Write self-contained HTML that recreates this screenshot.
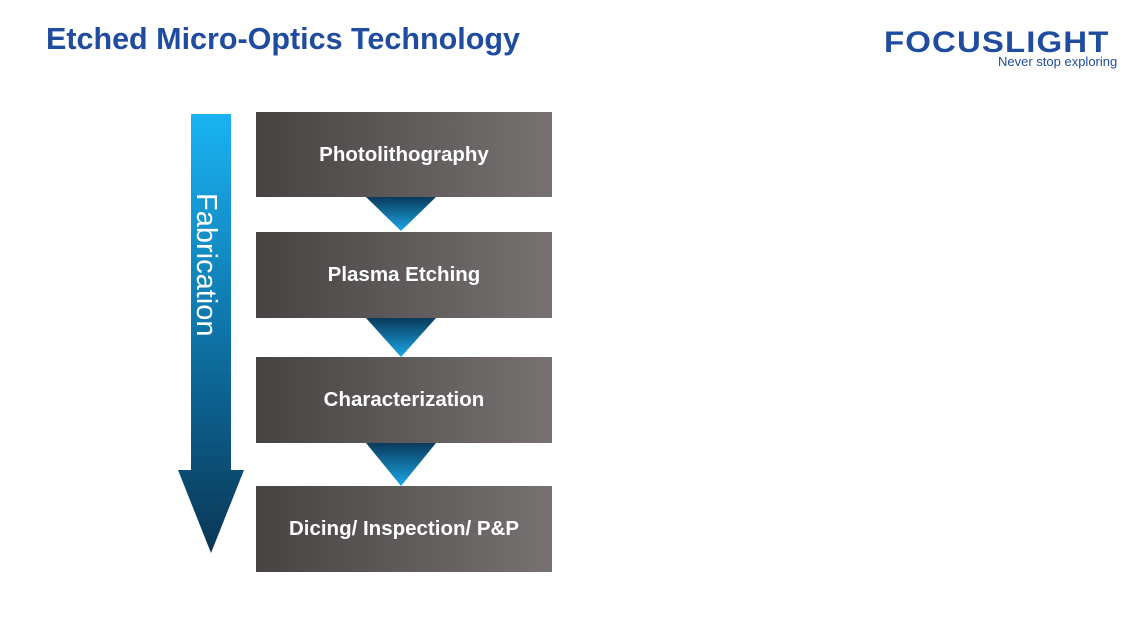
<!DOCTYPE html>
<html><head><style>
body{margin:0;width:1132px;height:625px;background:#fff;position:relative;overflow:hidden;font-family:"Liberation Sans",sans-serif}
.t{position:absolute;left:46px;top:22px;font-size:30.5px;font-weight:bold;color:#1f4c9e}
.box{position:absolute;left:256px;width:296px;background:linear-gradient(90deg,#474343,#777271);color:#fff;font-weight:bold;font-size:20.5px;display:flex;align-items:center;justify-content:center}
.logo{position:absolute;left:884px;top:26px;font-size:30px;font-weight:bold;color:#1f4c9e;letter-spacing:1px;transform:scaleX(1.1);transform-origin:left}
.sub{position:absolute;left:998px;top:54px;font-size:13px;color:#1f4c9e}
</style></head><body>
<div class="t">Etched Micro-Optics Technology</div>
<div class="logo">FOCUSLIGHT</div>
<div class="sub">Never stop exploring</div>
<svg width="1132" height="625" style="position:absolute;left:0;top:0">
<defs>
<linearGradient id="a" x1="0" y1="0" x2="0" y2="1"><stop offset="0" stop-color="#1ab3f3"/><stop offset="0.5" stop-color="#0e74a8"/><stop offset="1" stop-color="#0a3654"/></linearGradient>
<linearGradient id="b" x1="0" y1="0" x2="0" y2="1"><stop offset="0" stop-color="#0a3a5c"/><stop offset="1" stop-color="#1aa8e6"/></linearGradient>
</defs>
<polygon points="191,114 231,114 231,470 244,470 211,553 178,470 191,470" fill="url(#a)"/>
<text transform="translate(197,193) rotate(90)" font-family="Liberation Sans" font-size="29" fill="#fff">Fabrication</text>
<polygon points="366,197 436,197 401,231" fill="url(#b)"/>
<polygon points="366,318 436,318 401,357" fill="url(#b)"/>
<polygon points="366,443 436,443 401,486" fill="url(#b)"/>
</svg>
<div class="box" style="top:112px;height:85px">Photolithography</div>
<div class="box" style="top:232px;height:86px">Plasma Etching</div>
<div class="box" style="top:357px;height:86px">Characterization</div>
<div class="box" style="top:486px;height:86px">Dicing/ Inspection/ P&amp;P</div>
</body></html>
